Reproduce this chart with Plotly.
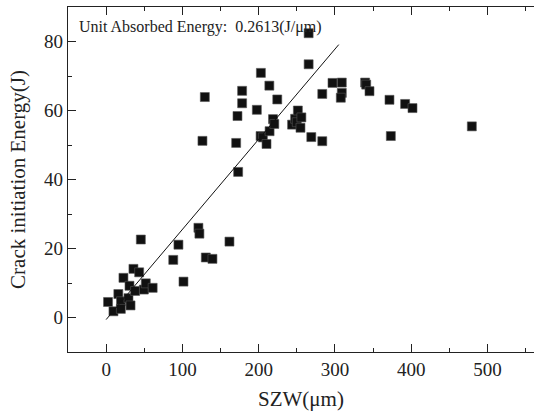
import plotly.graph_objects as go

# SZW (um) and crack initiation energy (J)
szw = [2.5, 9.6, 16, 19.5, 19.3, 22.7, 29.3, 30.6, 32, 35.8, 38, 43.3, 45.5, 49.5, 52, 61,
       88, 94.8, 101.4, 121, 122.3, 130.7, 139.4, 161.7,
       126.3, 129.4, 170.5, 172.2, 173.1, 178.3, 178.3, 197.6, 202.9, 202.5, 205.5, 210.3,
       214, 214.3, 218.8, 220.5, 224.4, 243.8, 247.8, 250, 251.4, 254.8, 256, 265.5, 265.5,
       269, 283.4, 283.4, 296.8, 309, 309, 307.7, 339.6, 341, 345.3, 371.5, 373.3, 392,
       401.7, 479.5]
energy = [4.5, 1.8, 6.8, 4.7, 2.5, 11.5, 5.6, 9.2, 3.5, 14.1, 7.7, 13.1, 22.6, 8.1, 9.9, 8.6,
          16.7, 21.1, 10.4, 26.0, 24.3, 17.4, 17.0, 22.0,
          51.2, 63.9, 50.6, 58.4, 42.2, 65.7, 62.1, 60.2, 70.9, 52.6, 52.2, 50.3,
          67.2, 54.0, 57.5, 56.1, 63.2, 55.9, 57.6, 56.6, 60.0, 55.0, 58.0, 82.4, 73.4,
          52.3, 64.8, 51.1, 68.0, 68.1, 65.1, 63.7, 68.1, 67.5, 65.6, 63.1, 52.6, 61.9,
          60.7, 55.4]

# linear fit line endpoints
fit_x = [0, 305]
fit_y = [-0.6, 79.1]

x_ticks = [0, 100, 200, 300, 400, 500]
y_ticks = [0, 20, 40, 60, 80]

serif = "'Liberation Serif', 'Times New Roman', serif"

fig = go.Figure()
fig.add_trace(go.Scatter(
    x=szw, y=energy, mode="markers",
    marker=dict(symbol="square", size=9, color="#111111",
                line=dict(color="#555555", width=0.6)),
    showlegend=False,
))
fig.add_trace(go.Scatter(
    x=fit_x, y=fit_y, mode="lines",
    line=dict(color="#111111", width=1),
    showlegend=False,
))

fig.add_annotation(
    text="Unit Absorbed Energy:  0.2613(J/\u03bcm)",
    xref="paper", yref="paper", x=0.019, y=0.942,
    xanchor="left", yanchor="middle", showarrow=False,
    font=dict(family=serif, size=16, color="#222222"),
)

axis_common = dict(
    showgrid=False, zeroline=False,
    showline=True, linecolor="#222222", linewidth=1.3,
    ticks="inside", ticklen=8, tickwidth=1.2, tickcolor="#222222",
    tickfont=dict(family=serif, size=19, color="#222222"),
)

fig.update_xaxes(
    range=[-50, 561], tickvals=x_ticks, mirror="ticks",
    minor=dict(dtick=50, tick0=0, ticks="inside", ticklen=4, tickwidth=1.2, tickcolor="#222222"),
    title=dict(text="SZW(\u03bcm)", font=dict(family=serif, size=21, color="#222222"), standoff=12),
    **axis_common,
)
fig.update_yaxes(
    range=[-10, 90], tickvals=y_ticks,
    minor=dict(dtick=10, tick0=0, ticks="inside", ticklen=4, tickwidth=1.2, tickcolor="#222222"),
    title=dict(text="Crack initiation Energy(J)", font=dict(family=serif, size=21, color="#222222"), standoff=12),
    **axis_common,
)

fig.update_layout(
    width=534, height=414,
    margin=dict(l=68, r=0, t=7, b=62),
    paper_bgcolor="white", plot_bgcolor="white",
    font=dict(family=serif),
)

fig.write_html("out.html")
